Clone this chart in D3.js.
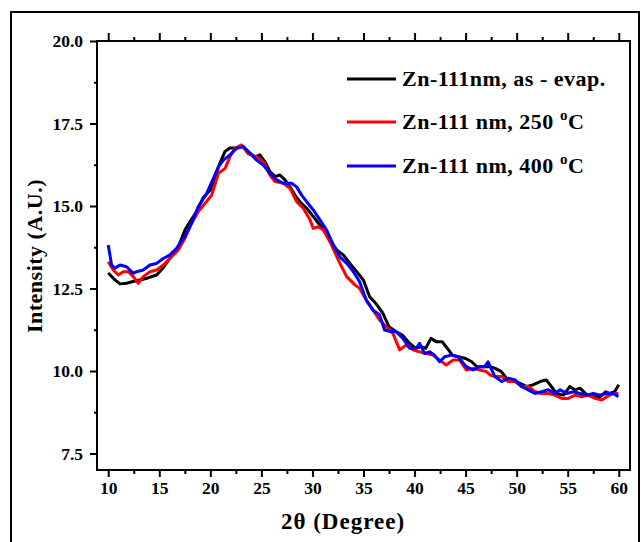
<!DOCTYPE html>
<html>
<head>
<meta charset="utf-8">
<script src="https://cdn.jsdelivr.net/npm/d3@7"></script>
<style>
  body { margin: 0; background: #fff; }
  text { font-family: "Liberation Serif", "Times New Roman", serif; font-weight: bold; }
</style>
</head>
<body>
<div id="chart"></div>
<script>
// Data
const seriesNames = ["Zn-111nm, as - evap.", "Zn-111 nm, 250 ", "Zn-111 nm, 400 "];
const seriesColors = ["#000000", "#ff0000", "#0000ff"];

const asEvapX = [10.0, 10.66, 11.15, 11.8, 12.42, 13.1, 13.89, 14.74, 15.36, 16.04, 16.83, 17.51, 18.0, 18.66, 19.28, 19.98, 20.45, 20.94, 21.43, 21.92, 22.58, 23.22, 23.88, 24.37, 24.86, 25.35, 25.84, 26.33, 26.82, 27.31, 27.8, 28.29, 28.78, 29.43, 30.08, 30.73, 31.22, 31.71, 32.37, 33.02, 33.67, 34.33, 35.0, 35.6, 36.2, 36.9, 37.5, 38.2, 38.8, 39.5, 40.1, 40.6, 41.1, 41.6, 42.1, 42.7, 43.2, 43.7, 44.3, 45.0, 45.6, 46.1, 46.7, 47.4, 47.9, 48.5, 49.0, 49.7, 50.3, 51.0, 51.6, 52.3, 52.9, 53.4, 53.9, 54.6, 55.2, 55.7, 56.2, 56.9, 57.5, 58.2, 58.7, 59.1, 59.6, 60.0];
const asEvapY = [12.97, 12.76, 12.64, 12.66, 12.71, 12.76, 12.82, 12.91, 13.12, 13.42, 13.73, 14.27, 14.52, 14.83, 15.24, 15.48, 15.89, 16.3, 16.65, 16.76, 16.76, 16.8, 16.6, 16.49, 16.55, 16.34, 16.04, 15.89, 15.94, 15.79, 15.58, 15.33, 15.13, 14.93, 14.68, 14.42, 14.27, 13.97, 13.67, 13.52, 13.26, 13.01, 12.75, 12.25, 12.05, 11.75, 11.34, 11.19, 11.09, 10.84, 10.69, 10.74, 10.69, 10.99, 10.89, 10.89, 10.69, 10.48, 10.43, 10.38, 10.28, 10.13, 10.13, 10.13, 10.08, 9.98, 9.78, 9.73, 9.63, 9.53, 9.58, 9.68, 9.73, 9.53, 9.32, 9.27, 9.53, 9.43, 9.48, 9.27, 9.22, 9.22, 9.37, 9.32, 9.37, 9.58];

const t250X = [10.0, 10.49, 10.98, 11.47, 11.96, 12.45, 12.94, 13.43, 14.09, 14.74, 15.39, 16.04, 16.86, 17.51, 18.17, 18.82, 19.48, 20.13, 20.79, 21.45, 21.92, 22.41, 23.06, 23.71, 24.53, 25.18, 25.84, 26.33, 27.14, 27.8, 28.45, 29.1, 29.76, 30.08, 30.57, 31.06, 31.71, 32.69, 33.35, 34.16, 34.61, 35.27, 35.92, 36.57, 37.23, 37.88, 38.54, 39.19, 39.84, 40.49, 41.15, 41.8, 42.45, 43.11, 43.76, 44.42, 45.07, 45.73, 46.38, 47.04, 47.4, 47.9, 48.53, 49.18, 49.84, 50.48, 51.14, 51.79, 52.45, 53.1, 53.75, 54.41, 55.06, 55.72, 56.37, 57.02, 57.68, 58.33, 58.82, 59.47, 59.96];
const t250Y = [13.31, 13.06, 12.91, 13.01, 13.01, 12.86, 12.66, 12.86, 13.01, 13.06, 13.21, 13.41, 13.67, 14.02, 14.48, 14.83, 15.08, 15.33, 15.99, 16.14, 16.49, 16.75, 16.85, 16.58, 16.49, 16.34, 15.94, 15.74, 15.69, 15.54, 15.13, 14.93, 14.58, 14.32, 14.37, 14.27, 13.92, 13.26, 12.86, 12.61, 12.51, 12.15, 11.85, 11.55, 11.34, 11.14, 10.64, 10.79, 10.64, 10.58, 10.53, 10.48, 10.33, 10.18, 10.33, 10.33, 10.03, 10.08, 10.03, 9.98, 9.88, 9.83, 9.83, 9.68, 9.68, 9.53, 9.53, 9.37, 9.32, 9.32, 9.27, 9.17, 9.17, 9.27, 9.22, 9.27, 9.17, 9.12, 9.22, 9.32, 9.32];

const t400X = [10.0, 10.33, 10.66, 11.15, 11.8, 12.45, 12.78, 13.43, 14.09, 14.74, 15.39, 16.04, 16.7, 17.51, 18.17, 18.82, 19.64, 20.3, 20.79, 21.28, 21.92, 22.58, 23.22, 23.88, 24.53, 25.18, 25.84, 26.5, 27.14, 27.96, 28.45, 28.94, 29.43, 30.08, 30.73, 31.39, 32.04, 32.69, 33.35, 34.0, 34.61, 35.27, 35.92, 36.57, 37.06, 37.71, 38.21, 38.86, 39.51, 40.17, 40.49, 40.98, 41.47, 41.96, 42.45, 42.94, 43.6, 44.25, 45.07, 45.73, 46.38, 46.87, 47.2, 47.87, 48.53, 49.18, 49.84, 50.48, 51.14, 51.79, 52.45, 53.1, 53.75, 54.25, 54.9, 55.55, 56.2, 56.86, 57.51, 58.16, 58.82, 59.47, 59.96];
const t400Y = [13.82, 13.21, 13.11, 13.21, 13.16, 12.96, 13.01, 13.06, 13.21, 13.26, 13.41, 13.52, 13.72, 14.07, 14.48, 14.98, 15.38, 15.84, 16.19, 16.39, 16.55, 16.75, 16.8, 16.6, 16.39, 16.24, 15.99, 15.79, 15.69, 15.69, 15.58, 15.33, 15.13, 14.88, 14.58, 14.27, 13.82, 13.46, 13.26, 13.01, 12.71, 12.15, 11.85, 11.7, 11.24, 11.19, 11.19, 10.99, 10.69, 10.69, 10.84, 10.53, 10.58, 10.48, 10.28, 10.43, 10.48, 10.43, 10.13, 10.03, 10.13, 10.13, 10.28, 9.83, 9.68, 9.78, 9.73, 9.53, 9.43, 9.32, 9.37, 9.43, 9.32, 9.43, 9.32, 9.37, 9.32, 9.27, 9.32, 9.27, 9.32, 9.32, 9.22];

const xMajor = [10, 15, 20, 25, 30, 35, 40, 45, 50, 55, 60];
const xMinor = [12.5, 17.5, 22.5, 27.5, 32.5, 37.5, 42.5, 47.5, 52.5, 57.5];
const yMajor = [7.5, 10.0, 12.5, 15.0, 17.5, 20.0];
const yMinor = [8.75, 11.25, 13.75, 16.25, 18.75];

// Layout
const W = 641, H = 542;
const plot = { left: 97, right: 630, top: 41, bottom: 470 };

const svg = d3.select("#chart")
    .append("svg")
    .attr("width", W)
    .attr("height", H);

// outer frame (runs off the bottom of the picture)
svg.append("rect")
    .attr("x", 11).attr("y", 12)
    .attr("width", 628).attr("height", 600)
    .attr("fill", "none")
    .attr("stroke", "#000")
    .attr("stroke-width", 2);

const x = d3.scaleLinear().domain([8.9, 61.1]).range([plot.left, plot.right]);
const y = d3.scaleLinear().domain([7, 20]).range([plot.bottom, plot.top]);

// clip so lines stay inside the plot box
svg.append("clipPath").attr("id", "clip")
    .append("rect")
    .attr("x", plot.left).attr("y", plot.top)
    .attr("width", plot.right - plot.left).attr("height", plot.bottom - plot.top);

// Series
const series = [
    { name: seriesNames[0], color: seriesColors[0], xs: asEvapX, ys: asEvapY },
    { name: seriesNames[1], color: seriesColors[1], xs: t250X, ys: t250Y },
    { name: seriesNames[2], color: seriesColors[2], xs: t400X, ys: t400Y }
];

const line = d3.line()
    .x(d => x(d[0]))
    .y(d => y(d[1]));

const lines = svg.append("g").attr("clip-path", "url(#clip)");
series.forEach(s => {
    lines.append("path")
        .datum(s.xs.map((v, i) => [v, s.ys[i]]))
        .attr("fill", "none")
        .attr("stroke", s.color)
        .attr("stroke-width", 3)
        .attr("stroke-linejoin", "round")
        .attr("d", line);
});

// Axes
function styleAxis(g) {
    g.select(".domain").remove();
    g.selectAll(".tick line").attr("stroke", "#000").attr("stroke-width", 2);
    g.selectAll(".tick text")
        .attr("fill", "#000")
        .style("font-size", "17.5px");
}

// bottom
svg.append("g")
    .attr("transform", `translate(0, ${plot.bottom})`)
    .call(d3.axisBottom(x).tickValues(xMajor).tickSize(7).tickPadding(5).tickFormat(d3.format("d")))
    .call(styleAxis);
svg.append("g")
    .attr("transform", `translate(0, ${plot.bottom})`)
    .call(d3.axisBottom(x).tickValues(xMinor).tickSize(4).tickFormat(""))
    .call(styleAxis);

// top (ticks only)
svg.append("g")
    .attr("transform", `translate(0, ${plot.top})`)
    .call(d3.axisTop(x).tickValues(xMajor).tickSize(8).tickFormat(""))
    .call(styleAxis);
svg.append("g")
    .attr("transform", `translate(0, ${plot.top})`)
    .call(d3.axisTop(x).tickValues(xMinor).tickSize(4).tickFormat(""))
    .call(styleAxis);

// left
svg.append("g")
    .attr("transform", `translate(${plot.left}, 0)`)
    .call(d3.axisLeft(y).tickValues(yMajor).tickSize(7).tickPadding(7).tickFormat(d3.format(".1f")))
    .call(styleAxis);
svg.append("g")
    .attr("transform", `translate(${plot.left}, 0)`)
    .call(d3.axisLeft(y).tickValues(yMinor).tickSize(3).tickFormat(""))
    .call(styleAxis);

// plot box
svg.append("rect")
    .attr("x", plot.left).attr("y", plot.top)
    .attr("width", plot.right - plot.left).attr("height", plot.bottom - plot.top)
    .attr("fill", "none")
    .attr("stroke", "#000")
    .attr("stroke-width", 2);

// Axis titles
svg.append("text")
    .attr("text-anchor", "middle")
    .attr("x", 343)
    .attr("y", 529)
    .style("font-size", "23px")
    .style("letter-spacing", "1px")
    .text("2\u03b8 (Degree)");

svg.append("text")
    .attr("text-anchor", "middle")
    .attr("transform", "rotate(-90)")
    .attr("x", -256)
    .attr("y", 42)
    .style("font-size", "22px")
    .style("letter-spacing", "0.5px")
    .text("Intensity (A.U.)");

// Legend
const legendY = [79, 122, 166];
const legend = svg.append("g");
series.forEach((s, i) => {
    legend.append("line")
        .attr("x1", 347).attr("x2", 396)
        .attr("y1", legendY[i]).attr("y2", legendY[i])
        .attr("stroke", s.color)
        .attr("stroke-width", 3);
    const t = legend.append("text")
        .attr("x", 402)
        .attr("y", legendY[i] + 7)
        .style("font-size", "22px")
        .style("letter-spacing", "0.5px")
        .text(s.name);
    if (i > 0) {
        t.append("tspan").attr("dy", -9).style("font-size", "15px").text("o");
        t.append("tspan").attr("dy", 9).text("C");
    }
});
</script>
</body>
</html>
